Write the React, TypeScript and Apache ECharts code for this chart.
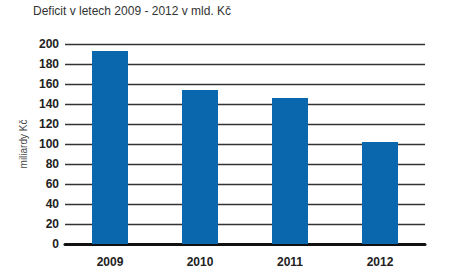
import React, { useEffect, useRef } from "react";
import * as echarts from "echarts";

const categories = ["2009", "2010", "2011", "2012"];
const values = [193, 154, 146, 102];
const yTicks = [0, 20, 40, 60, 80, 100, 120, 140, 160, 180, 200];

export default function App() {
  const ref = useRef<HTMLDivElement>(null);
  useEffect(() => {
    const chart = echarts.init(ref.current!, null, { renderer: "svg" });
    chart.setOption({
      animation: false,
      backgroundColor: "#ffffff",
      title: {
        text: "Deficit v letech 2009 - 2012 v mld. Kč",
        left: 28,
        top: 0,
        textStyle: { fontFamily: "Liberation Sans", fontSize: 12, fontWeight: "normal", color: "#333" },
      },
      grid: { left: 65, right: 29, top: 44, bottom: 31 },
      xAxis: {
        type: "category",
        data: categories,
        axisLine: { lineStyle: { color: "#111", width: 3 } },
        axisTick: { show: false },
        axisLabel: { fontFamily: "Liberation Sans", fontSize: 12, fontWeight: "bold", color: "#222", margin: 12 },
      },
      yAxis: {
        type: "value",
        min: yTicks[0],
        max: yTicks[yTicks.length - 1],
        interval: 20,
        name: "miliardy Kč",
        nameLocation: "middle",
        nameGap: 36,
        nameTextStyle: { fontFamily: "Liberation Sans", fontSize: 10, color: "#444" },
        axisLine: { show: false },
        axisTick: { show: false },
        axisLabel: { fontFamily: "Liberation Sans", fontSize: 12, fontWeight: "bold", color: "#222", margin: 6 },
        splitLine: { lineStyle: { color: "#333", width: 1.3 } },
      },
      series: [
        {
          type: "bar",
          data: values,
          barWidth: 36,
          itemStyle: { color: "#0a66ad" },
          z: 3,
        },
      ],
    });
    return () => chart.dispose();
  }, []);
  return <div ref={ref} style={{ width: 454, height: 275, position: "absolute", left: 0, top: 0 }} />;
}
